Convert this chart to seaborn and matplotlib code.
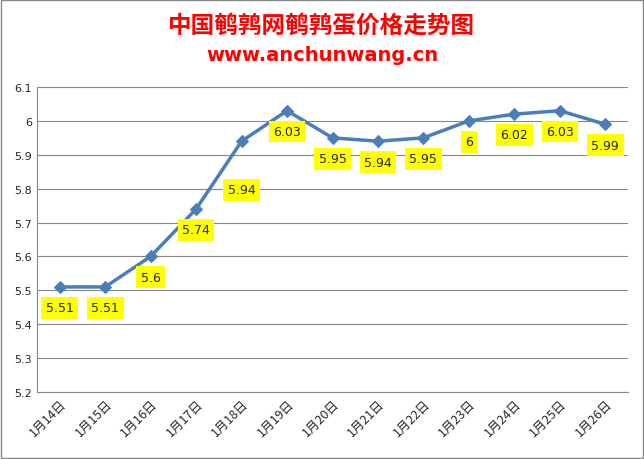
import matplotlib.pyplot as plt
import seaborn as sns

dates = ['1月14日', '1月15日', '1月16日', '1月17日', '1月18日', '1月19日', '1月20日',
         '1月21日', '1月22日', '1月23日', '1月24日', '1月25日', '1月26日']
prices = [5.51, 5.51, 5.6, 5.74, 5.94, 6.03, 5.95, 5.94, 5.95, 6, 6.02, 6.03, 5.99]
price_labels = ['5.51', '5.51', '5.6', '5.74', '5.94', '6.03', '5.95',
                '5.94', '5.95', '6', '6.02', '6.03', '5.99']
y_ticks = [5.2, 5.3, 5.4, 5.5, 5.6, 5.7, 5.8, 5.9, 6, 6.1]

sns.set_style('white')
plt.rcParams['font.family'] = ['Noto Sans CJK SC', 'DejaVu Sans']

fig = plt.figure(figsize=(6.44, 4.6), dpi=100)
fig.patches.append(plt.Rectangle((0.002, 0.002), 0.996, 0.996, transform=fig.transFigure,
                                 fill=False, edgecolor='#888888', lw=1))
ax = fig.add_axes([37 / 644, 1 - 393 / 460, 591 / 644, 305 / 460])

x = list(range(len(dates)))
sns.lineplot(x=x, y=prices, ax=ax, color='#4a7ebb', lw=2.5, marker='D',
             markersize=6, markeredgecolor='#4a7ebb')
for xi, yi, lab in zip(x, prices, price_labels):
    dy = -35 if xi == 4 else -15
    ax.annotate(lab, (xi, yi), xytext=(0, dy), textcoords='offset points',
                ha='center', va='center', fontsize=9, family='DejaVu Sans',
                bbox=dict(boxstyle='square,pad=0.35', fc='#ffff00', ec='none'))

ax.set_xlim(-0.5, len(dates) - 0.5)
ax.set_ylim(5.2, 6.1)
ax.set_yticks(y_ticks)
ax.set_yticklabels([f'{v:g}' for v in y_ticks], fontsize=8, family='DejaVu Sans')
ax.set_xticks(x)
ax.set_xticklabels(dates, rotation=45, ha='right', rotation_mode='anchor', fontsize=9)
ax.grid(axis='y', color='#888888', lw=0.8)
for s in ['top', 'right']:
    ax.spines[s].set_visible(False)
for s in ['left', 'bottom']:
    ax.spines[s].set_color('#888888')
ax.tick_params(length=0)

fig.text(0.5, 0.945, '中国鹌鹑网鹌鹑蛋价格走势图', ha='center', va='center',
         color='#ff0000', fontsize=17, fontweight='bold')
fig.text(0.5, 0.88, 'www.anchunwang.cn', ha='center', va='center',
         color='#ff0000', fontsize=14, fontweight='bold', family='DejaVu Sans')

fig.savefig('out.png', dpi=100)
